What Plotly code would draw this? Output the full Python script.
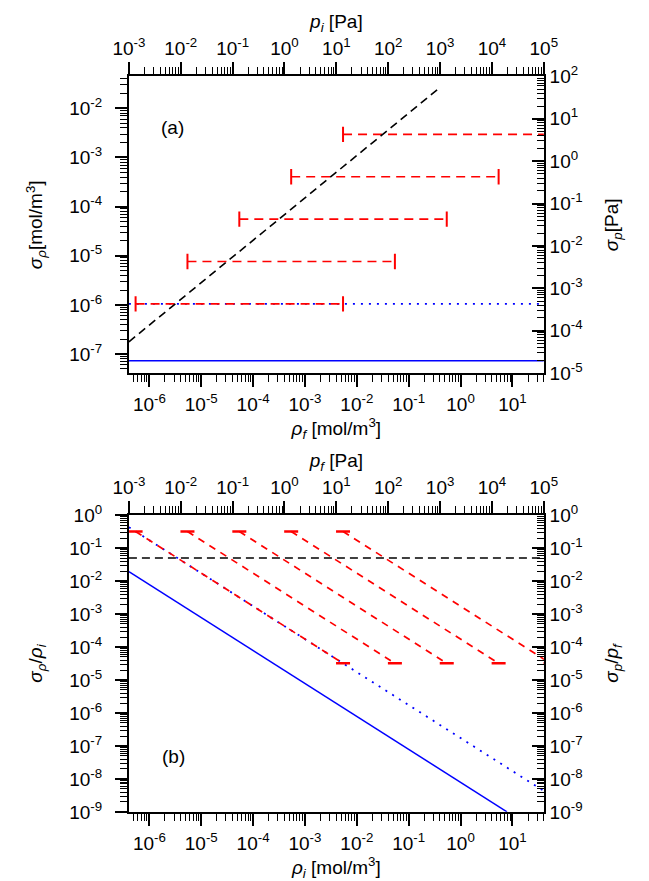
import plotly.graph_objects as go
import math

W, H = 649, 881
FONT = "Liberation Sans, Arial, sans-serif"
RT = 8.314 * 298.15  # converts mol/m3 to Pa

# ---------------- data (pressure units) ----------------
P_RANGE = [1e-3, 1e5]                                  # top axes [Pa]
# panel (a): constant-sigma ranges (red), reference 5 % line (black)
a_bar_p_lo = [1.345e-3, 1.345e-2, 1.345e-1, 1.345, 13.45]
a_bar_p_hi = [13.45, 134.5, 1345.0, 13450.0, 134500.0]
a_bar_sigma = [4.3e-4, 4.3e-3, 4.3e-2, 0.43, 4.3]
a_ref_p = [1e-3, 1e3]
a_ref_sigma = [5.5e-5, 55.0]
a_dot_p = [1e-3, 1e5]
a_dot_sigma = [4.3e-4, 4.3e-4]
a_solid_p = [1e-3, 1e5]
a_solid_sigma = [1.95e-5, 1.95e-5]
# panel (b): relative uncertainties
b_bar_p_lo = [1.345e-3, 1.345e-2, 1.345e-1, 1.345, 13.45]
b_bar_p_hi = [13.45, 134.5, 1345.0, 13450.0, 134500.0]
b_bar_rel_lo = [0.32, 0.32, 0.32, 0.32, 0.32]
b_bar_rel_hi = [3.2e-5, 3.2e-5, 3.2e-5, 3.2e-5, 3.2e-5]
b_ref_p = [1e-3, 1e5]
b_ref_rel = [0.05, 0.05]
b_dot_p = [1e-3, 1e5]
b_dot_rel = [0.43, 4.3e-9]
b_solid_p = [1e-3, 1.95e4]
b_solid_rel = [0.0195, 1e-9]

# axis ranges (log10) and ticks
a_left_range = [-7.39, -1.35]
a_right_range = [-5, 2]
b_range = [-9, 0]
rho_range = [math.log10(P_RANGE[0] / RT), math.log10(P_RANGE[1] / RT)]
rho_ticks = list(range(-6, 2))
p_ticks = list(range(-3, 6))
a_left_ticks = list(range(-7, -1))
a_right_ticks = list(range(-5, 3))
b_ticks = list(range(-9, 1))

# ---------------- layout geometry (pixels) ----------------
X0, X1 = 110, 545
A_TOP, A_BOT = 57, 362
B_TOP, B_BOT = 508, 813

TICK_FS = 19
TITLE_FS = 19


def ydom(top, bot):
    return [1 - bot / H, 1 - top / H]


def tickset(exps):
    return [10.0 ** e for e in exps], ["10<sup>%d</sup>" % e for e in exps]


def minors(lo, hi):
    vals = []
    for e in range(math.floor(lo) - 1, math.ceil(hi) + 1):
        for m in range(2, 10):
            v = m * 10.0 ** e
            if lo <= math.log10(v) <= hi:
                vals.append(v)
    return vals


def axis(rng, exps, ticks, title, standoff=6, **kw):
    tv, tt = tickset(exps)
    d = dict(
        type="log", range=rng, autorange=False, showgrid=False, zeroline=False,
        showline=True, linecolor="black", linewidth=2,
        ticks=ticks, ticklen=12, tickwidth=1.6, tickcolor="black",
        tickvals=tv, ticktext=tt,
        tickfont=dict(family=FONT, size=TICK_FS, color="black"),
        minor=dict(tickvals=minors(rng[0], rng[1]), ticks=ticks, ticklen=7,
                   tickwidth=1.2, tickcolor="black"),
        title=dict(text=title, standoff=standoff,
                   font=dict(family=FONT, size=TITLE_FS, color="black")),
    )
    d.update(kw)
    return d


fig = go.Figure()

RED = "#ff0000"
BLUE = "#0000ff"

# invisible anchors so the base subplots exist
fig.add_trace(go.Scatter(x=[1e-5], y=[1e-5], mode="markers", opacity=0,
                         hoverinfo="skip", xaxis="x", yaxis="y"))
fig.add_trace(go.Scatter(x=[1e-5], y=[1e-5], mode="markers", opacity=0,
                         hoverinfo="skip", xaxis="x3", yaxis="y3"))

# ----- panel (a) traces on top/right axes -----
fig.add_trace(go.Scatter(x=a_solid_p, y=a_solid_sigma, mode="lines",
                         line=dict(color=BLUE, width=1.5), xaxis="x2", yaxis="y2"))
fig.add_trace(go.Scatter(x=a_dot_p, y=a_dot_sigma, mode="lines",
                         line=dict(color=BLUE, width=1.8, dash="2px,6px"),
                         xaxis="x2", yaxis="y2"))
for lo, hi, s in zip(a_bar_p_lo, a_bar_p_hi, a_bar_sigma):
    fig.add_trace(go.Scatter(x=[lo, hi], y=[s, s], mode="lines+markers",
                             line=dict(color=RED, width=1.7, dash="9px,6px"),
                             marker=dict(symbol="line-ns", size=11,
                                         line=dict(color=RED, width=2)),
                             xaxis="x2", yaxis="y2"))
fig.add_trace(go.Scatter(x=a_ref_p, y=a_ref_sigma, mode="lines",
                         line=dict(color="black", width=1.6, dash="8px,5px"),
                         xaxis="x2", yaxis="y2"))

# ----- panel (b) traces -----
fig.add_trace(go.Scatter(x=b_solid_p, y=b_solid_rel, mode="lines",
                         line=dict(color=BLUE, width=1.5), xaxis="x4", yaxis="y4"))
fig.add_trace(go.Scatter(x=b_dot_p, y=b_dot_rel, mode="lines",
                         line=dict(color=BLUE, width=1.8, dash="2px,6px"),
                         xaxis="x4", yaxis="y4"))
for lo, hi, r0, r1 in zip(b_bar_p_lo, b_bar_p_hi, b_bar_rel_lo, b_bar_rel_hi):
    fig.add_trace(go.Scatter(x=[lo, hi], y=[r0, r1], mode="lines+markers",
                             line=dict(color=RED, width=1.7, dash="7px,6px"),
                             marker=dict(symbol="line-ew", size=10,
                                         line=dict(color=RED, width=2.5)),
                             xaxis="x4", yaxis="y4"))
fig.add_trace(go.Scatter(x=b_ref_p, y=b_ref_rel, mode="lines",
                         line=dict(color="black", width=1.6, dash="8px,5px"),
                         xaxis="x4", yaxis="y4"))

xdom = [X0 / W, X1 / W]
ya, yb = ydom(A_TOP, A_BOT), ydom(B_TOP, B_BOT)
sub = lambda s: "<sub>%s</sub>" % s
rho, sig = "<i>ρ</i>", "<i>σ</i>"

fig.update_layout(
    width=W, height=H, margin=dict(l=0, r=0, t=0, b=0),
    paper_bgcolor="white", plot_bgcolor="white", showlegend=False,
    font=dict(family=FONT, color="black"),
    xaxis=axis(rho_range, rho_ticks, "outside",
               rho + sub("<i>f</i>") + " [mol/m<sup>3</sup>]", standoff=3,
               domain=xdom, anchor="y", side="bottom", ticklabelstandoff=1),
    xaxis2=axis([-3, 5], p_ticks, "outside", "<i>p</i>" + sub("<i>i</i>") + " [Pa]",
                standoff=1, domain=xdom, overlaying="x", anchor="y", side="top"),
    yaxis=axis(a_left_range, a_left_ticks, "outside",
               sig + sub(rho) + "[mol/m<sup>3</sup>]", standoff=21,
               domain=ya, anchor="x", side="left", ticklabelstandoff=9),
    yaxis2=axis(a_right_range, a_right_ticks, "inside", sig + sub("<i>p</i>") + "[Pa]",
                standoff=23, domain=ya, overlaying="y", anchor="x", side="right"),
    xaxis3=axis(rho_range, rho_ticks, "outside",
                rho + sub("<i>i</i>") + " [mol/m<sup>3</sup>]", standoff=3,
                domain=xdom, anchor="y3", side="bottom", ticklabelstandoff=1),
    xaxis4=axis([-3, 5], p_ticks, "outside", "<i>p</i>" + sub("<i>f</i>") + " [Pa]",
                standoff=1, domain=xdom, overlaying="x3", anchor="y3", side="top"),
    yaxis3=axis(b_range, b_ticks, "outside",
                sig + sub(rho) + "/" + rho + sub("<i>i</i>"), standoff=21,
                domain=yb, anchor="x3", side="left", ticklabelstandoff=9),
    yaxis4=axis(b_range, b_ticks, "inside",
                sig + sub("<i>p</i>") + "/<i>p</i>" + sub("<i>f</i>"), standoff=23,
                domain=yb, overlaying="y3", anchor="x3", side="right"),
    annotations=[
        dict(text="(a)", xref="paper", yref="paper", x=142 / W, y=1 - 97 / H,
             showarrow=False, font=dict(family=FONT, size=TITLE_FS, color="black")),
        dict(text="(b)", xref="paper", yref="paper", x=143 / W, y=1 - 769 / H,
             showarrow=False, font=dict(family=FONT, size=TITLE_FS, color="black")),
    ],
)

fig.write_html("out.html")
